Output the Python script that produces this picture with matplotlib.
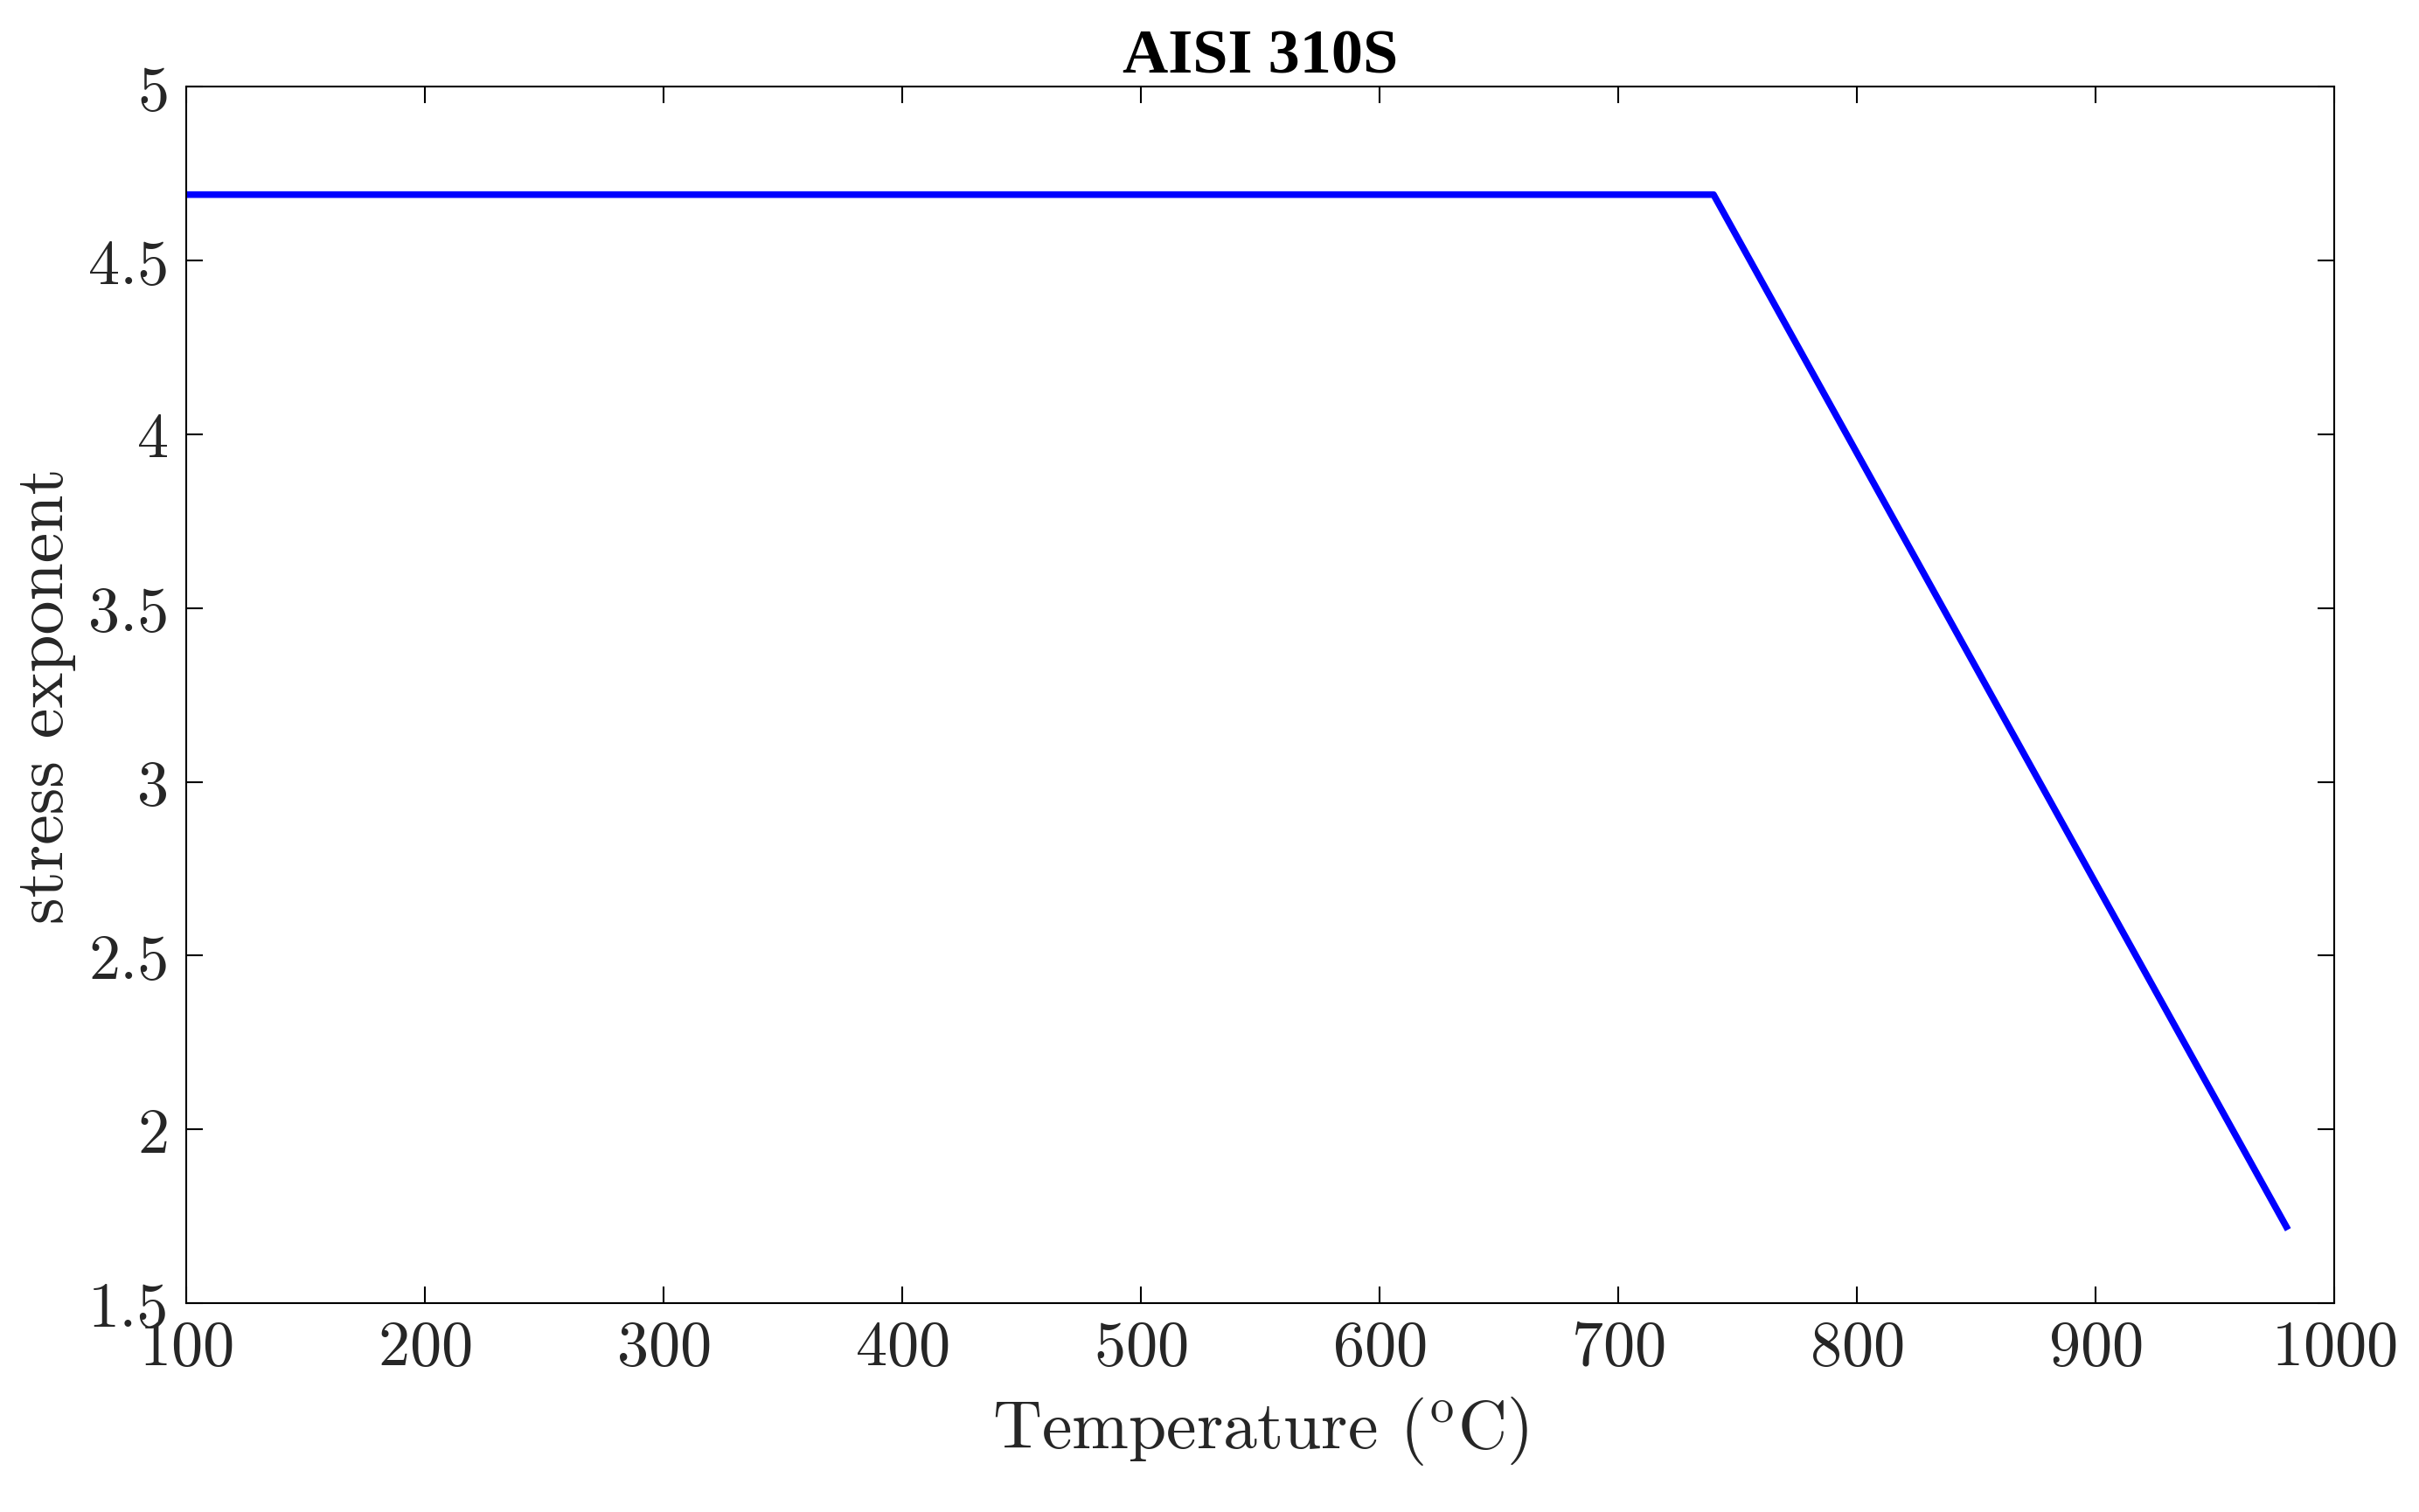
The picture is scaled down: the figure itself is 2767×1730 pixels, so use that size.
import matplotlib
matplotlib.use("Agg")
import matplotlib.pyplot as plt

# data
temperature = [100, 740, 980]
stress_exponent = [4.69, 4.69, 1.72]

plt.rcParams['font.family'] = ['cmr10', 'DejaVu Serif']
plt.rcParams['mathtext.fontset'] = 'cm'
plt.rcParams['axes.formatter.use_mathtext'] = True

fig = plt.figure(figsize=(27.67, 17.31), dpi=100)
ax = fig.add_axes([0.0769, 0.138, 0.888, 0.804])

ax.plot(temperature, stress_exponent, color='#0000ff', linewidth=5.5)

ax.set_xlim(100, 1000)
ax.set_ylim(1.5, 5)
ax.set_xticks(range(100, 1001, 100))
ax.set_yticks([1.5, 2, 2.5, 3, 3.5, 4, 4.5, 5])
ax.set_yticklabels(['1.5', '2', '2.5', '3', '3.5', '4', '4.5', '5'])
ax.tick_params(direction='in', length=14, width=1.5, labelsize=52,
               top=True, right=True, pad=14, labelcolor='#262626')
for s in ax.spines.values():
    s.set_linewidth(1.5)

ax.set_xlabel(r'Temperature ($^{\mathrm{o}}$C)', fontsize=56, labelpad=14,
              color='#262626')
ax.set_ylabel('stress exponent', fontsize=56, labelpad=10, color='#262626')
ax.set_title('AISI 310S', fontsize=52, fontweight='bold',
             family='Liberation Serif', pad=12)

fig.savefig('out.png', dpi=100)
